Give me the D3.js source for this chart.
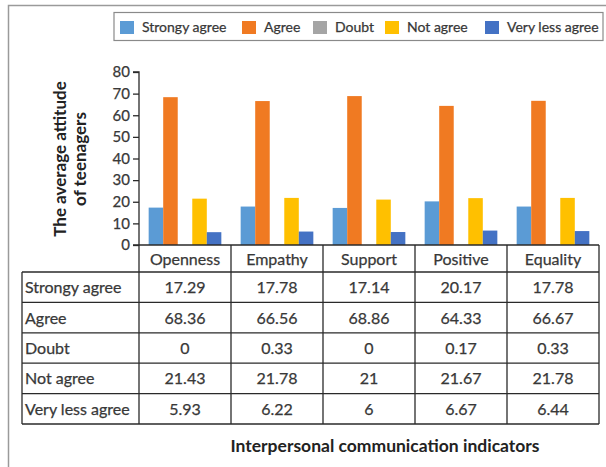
<!DOCTYPE html>
<html>
<head>
<meta charset="utf-8">
<script src="https://cdn.jsdelivr.net/npm/d3@7"></script>
<style>
  html, body { margin: 0; padding: 0; background: #fff; }
  svg { display: block; font-family: Lato, "Open Sans", sans-serif; }
</style>
</head>
<body>
<svg id="chart" width="606" height="467"></svg>
<script>
// ---- Data ----
const categories = ["Openness", "Empathy", "Support", "Positive", "Equality"];
const seriesNames = ["Strongy agree", "Agree", "Doubt", "Not agree", "Very less agree"];
const strongyAgree = [17.29, 17.78, 17.14, 20.17, 17.78];
const agree = [68.36, 66.56, 68.86, 64.33, 66.67];
const doubt = [0, 0.33, 0, 0.17, 0.33];
const notAgree = [21.43, 21.78, 21, 21.67, 21.78];
const veryLessAgree = [5.93, 6.22, 6, 6.67, 6.44];
const yTicks = [0, 10, 20, 30, 40, 50, 60, 70, 80];
const colors = ["#5B9BD5", "#F07A22", "#A5A5A5", "#FFC000", "#4472C4"];
const yTitleLines = ["The average attitude", "of teenagers"];
const xTitle = "Interpersonal communication indicators";

const seriesValues = [strongyAgree, agree, doubt, notAgree, veryLessAgree];

(function () {
// ---- Layout ----
const svg = d3.select("#chart");
const plotLeft = 139, plotRight = 599, plotTop = 72, base = 245;
const tableLeft = 22, headerBottom = 272, rowH = 30.4;
const textColor = "#383838";
const lineColor = "#2a2a2a";
const textStroke = t => t.attr("stroke", textColor).attr("stroke-width", 0.25);

// outer frame
svg.append("rect").attr("x", 8.5).attr("y", 5.5).attr("width", 640).attr("height", 500)
  .attr("fill", "none").attr("stroke", "#9a9a9a").attr("stroke-width", 1.5);

const padIn = 0.21;
const x0 = d3.scaleBand().domain(categories).range([plotLeft, plotRight]).paddingInner(padIn).paddingOuter(padIn / 2);
const x1 = d3.scaleBand().domain(seriesNames).range([0, x0.bandwidth()]);
const y = d3.scaleLinear().domain([0, 80]).range([base, plotTop]);

// bars
const groups = svg.append("g").selectAll("g").data(categories).join("g")
  .attr("transform", d => `translate(${x0(d)},0)`);
groups.selectAll("rect")
  .data((c, ci) => seriesNames.map((s, si) => ({ s, si, v: seriesValues[si][ci] })))
  .join("rect")
  .attr("x", d => x1(d.s))
  .attr("y", d => y(d.v))
  .attr("width", x1.bandwidth())
  .attr("height", d => base - y(d.v))
  .attr("fill", d => colors[d.si]);

// y axis
const yAxis = d3.axisLeft(y).tickValues(yTicks).tickSize(6).tickPadding(3).tickFormat(d3.format("d"));
const yg = svg.append("g").attr("transform", `translate(${plotLeft},0)`).call(yAxis);
yg.select(".domain").attr("stroke", lineColor).attr("stroke-width", 1.3).attr("d", `M-6,${plotTop}H0V${base}`);
yg.selectAll(".tick line").attr("stroke", lineColor).attr("stroke-width", 1.3);
yg.selectAll(".tick text").attr("fill", textColor).style("font-size", "15px").style("font-family", "Lato, sans-serif")
  .call(textStroke);

// y title
const yt = svg.append("text").attr("transform", `translate(0,159) rotate(-90)`)
  .attr("text-anchor", "middle").attr("fill", "#222").style("font-size", "17px").style("font-weight", "bold");
yTitleLines.forEach((t, i) => yt.append("tspan").attr("x", 0).attr("y", 66 + i * 20).text(t));

// x axis line (baseline)
svg.append("line").attr("x1", plotLeft - 6).attr("x2", plotRight).attr("y1", base).attr("y2", base)
  .attr("stroke", lineColor).attr("stroke-width", 1.3);

// ---- Data table ----
const step = x0.step();
const colEdges = categories.map(c => x0(c) - step * padIn / 2).concat([plotRight]);
const tableBottom = headerBottom + rowH * seriesNames.length;
const tg = svg.append("g");
colEdges.forEach(xe => {
  tg.append("line").attr("x1", xe).attr("x2", xe).attr("y1", base).attr("y2", tableBottom)
    .attr("stroke", lineColor).attr("stroke-width", 1.3);
});
tg.append("line").attr("x1", tableLeft).attr("x2", tableLeft).attr("y1", headerBottom).attr("y2", tableBottom)
  .attr("stroke", lineColor).attr("stroke-width", 1.3);
for (let i = 0; i <= seriesNames.length; i++) {
  const yy = headerBottom + i * rowH;
  tg.append("line").attr("x1", tableLeft).attr("x2", plotRight).attr("y1", yy).attr("y2", yy)
    .attr("stroke", lineColor).attr("stroke-width", 1.3);
}
categories.forEach(c => {
  tg.append("text").attr("x", x0(c) + x0.bandwidth() / 2).attr("y", (base + headerBottom) / 2 + 6)
    .attr("text-anchor", "middle").attr("fill", textColor).style("font-size", "16px").text(c).call(textStroke);
});
seriesNames.forEach((s, si) => {
  const cy = headerBottom + si * rowH + rowH / 2 + 6;
  tg.append("text").attr("x", tableLeft + 3).attr("y", cy).attr("fill", textColor).style("font-size", "16px")
    .text(s).call(textStroke);
  categories.forEach((c, ci) => {
    tg.append("text").attr("x", x0(c) + x0.bandwidth() / 2).attr("y", cy)
      .attr("text-anchor", "middle").attr("fill", textColor).style("font-size", "16px")
      .text(String(seriesValues[si][ci])).call(textStroke);
  });
});

// x title
svg.append("text").attr("x", 385).attr("y", 452).attr("text-anchor", "middle")
  .attr("fill", "#222").style("font-size", "17.5px").style("font-weight", "bold").text(xTitle);

// ---- Legend ----
const lg = svg.append("g");
lg.append("rect").attr("x", 114).attr("y", 12.5).attr("width", 489).attr("height", 28)
  .attr("fill", "#fff").attr("stroke", "#8a8a8a").attr("stroke-width", 1.2);
const swatchX = [120, 242, 313, 385, 485];
seriesNames.forEach((s, i) => {
  lg.append("rect").attr("x", swatchX[i]).attr("y", 21).attr("width", 14).attr("height", 13).attr("fill", colors[i]);
  lg.append("text").attr("x", swatchX[i] + 22).attr("y", 32).attr("fill", textColor)
    .style("font-size", "14px").text(s).call(textStroke);
});
})();
</script>
</body>
</html>
